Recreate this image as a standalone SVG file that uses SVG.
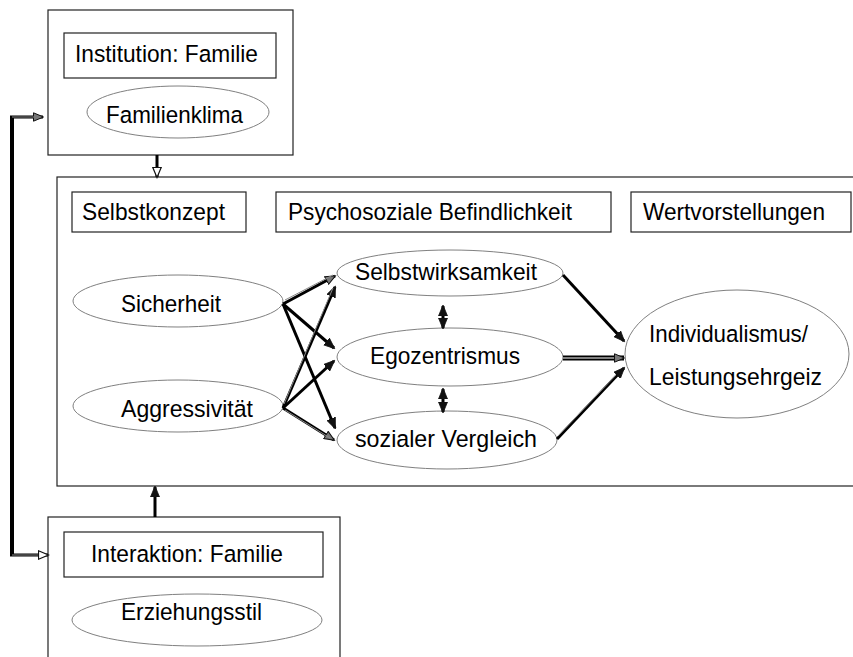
<svg xmlns="http://www.w3.org/2000/svg" width="853" height="657" viewBox="0 0 853 657">
<style>
.box{fill:#fff;stroke:#222;stroke-width:1.2}
.lbl{fill:#fff;stroke:#222;stroke-width:1.2}
.ell{fill:#fff;stroke:#808080;stroke-width:1}
text{font-family:"Liberation Sans",Arial,sans-serif;font-size:24.5px;fill:#000}
.c{stroke:#000;stroke-width:3;fill:none}
.cd{stroke:#000;stroke-width:5;fill:none}
.ci{stroke:#fff;stroke-width:1.2;fill:none}
.cg{stroke:#888;stroke-width:1;fill:none}
</style>
<defs>
<marker id="ah" markerUnits="userSpaceOnUse" markerWidth="12" markerHeight="10" refX="10" refY="5" orient="auto">
<path d="M0,0.5 L11,5 L0,9.5 z" fill="#111" stroke="#111" stroke-width="0.8"/>
</marker>
<marker id="ahs" markerUnits="userSpaceOnUse" markerWidth="12" markerHeight="10" refX="10" refY="5" orient="auto-start-reverse">
<path d="M0,0.5 L11,5 L0,9.5 z" fill="#111" stroke="#111" stroke-width="0.8"/>
</marker>
<marker id="ahw" markerUnits="userSpaceOnUse" markerWidth="12" markerHeight="10" refX="10" refY="5" orient="auto">
<path d="M0.5,0.8 L10.5,5 L0.5,9.2 z" fill="#fff" stroke="#111" stroke-width="1.2"/>
</marker>
<marker id="ahg" markerUnits="userSpaceOnUse" markerWidth="12" markerHeight="10" refX="10" refY="5" orient="auto">
<path d="M0.5,0.8 L10.5,5 L0.5,9.2 z" fill="#777" stroke="#111" stroke-width="1"/>
</marker>
</defs>

<g id="institution">
<rect class="box" x="48" y="10" width="245" height="145"/>
<rect class="lbl" x="64" y="33" width="212" height="45"/>
<text x="75" y="62" textLength="183" lengthAdjust="spacingAndGlyphs">Institution: Familie</text>
<ellipse class="ell" cx="178" cy="112" rx="91" ry="26"/>
<text x="106" y="123" textLength="137" lengthAdjust="spacingAndGlyphs">Familienklima</text>
</g>

<g id="main">
<rect class="box" x="57" y="177" width="800" height="309"/>
</g>

<g id="selbstkonzept">
<rect class="lbl" x="72" y="192" width="174" height="40"/>
<text x="82" y="220" textLength="143" lengthAdjust="spacingAndGlyphs">Selbstkonzept</text>
</g>
<g id="psychosozial">
<rect class="lbl" x="276" y="192" width="335" height="40"/>
<text x="288" y="220" textLength="284" lengthAdjust="spacingAndGlyphs">Psychosoziale Befindlichkeit</text>
</g>
<g id="wertvorstellungen">
<rect class="lbl" x="631" y="192" width="220" height="40"/>
<text x="643" y="220" textLength="182" lengthAdjust="spacingAndGlyphs">Wertvorstellungen</text>
</g>

<g id="sicherheit">
<ellipse class="ell" cx="178" cy="301" rx="105" ry="26"/>
<text x="121" y="312" textLength="100" lengthAdjust="spacingAndGlyphs">Sicherheit</text>
</g>
<g id="aggressivitaet">
<ellipse class="ell" cx="178" cy="406" rx="105" ry="26"/>
<text x="121" y="417" textLength="132" lengthAdjust="spacingAndGlyphs">Aggressivität</text>
</g>
<g id="selbstwirksamkeit">
<ellipse class="ell" cx="450" cy="273" rx="113" ry="23"/>
<text x="355" y="280" textLength="182" lengthAdjust="spacingAndGlyphs">Selbstwirksamkeit</text>
</g>
<g id="egozentrismus">
<ellipse class="ell" cx="450" cy="357" rx="113" ry="29"/>
<text x="370" y="364" textLength="150" lengthAdjust="spacingAndGlyphs">Egozentrismus</text>
</g>
<g id="sozialer">
<ellipse class="ell" cx="447" cy="440" rx="110" ry="29"/>
<text x="355" y="447" textLength="182" lengthAdjust="spacingAndGlyphs">sozialer Vergleich</text>
</g>
<g id="individualismus">
<ellipse class="ell" cx="737" cy="354" rx="112" ry="64"/>
<text x="649" y="342" textLength="159" lengthAdjust="spacingAndGlyphs">Individualismus/</text>
<text x="649" y="385" textLength="173" lengthAdjust="spacingAndGlyphs">Leistungsehrgeiz</text>
</g>

<g id="interaktion">
<rect class="box" x="48" y="517" width="292" height="150"/>
<rect class="lbl" x="64" y="532" width="259" height="45"/>
<text x="91" y="562" textLength="192" lengthAdjust="spacingAndGlyphs">Interaktion: Familie</text>
<ellipse class="ell" cx="197" cy="620" rx="125" ry="26"/>
<text x="121" y="620" textLength="141" lengthAdjust="spacingAndGlyphs">Erziehungsstil</text>
</g>

<g id="connectors">
<path d="M12,555 L12,117" stroke="#000" stroke-width="4" fill="none"/>
<path d="M10,117 L43,117" stroke="#000" stroke-width="3" fill="none" marker-end="url(#ahg)"/>
<path d="M10,555 L48,555" stroke="#000" stroke-width="3" fill="none" marker-end="url(#ahw)"/>
<path d="M12,117 L34,117 M12,555 L38,555" class="cg"/>
<path d="M157,155 L157,177" class="c" marker-end="url(#ahw)"/>
<path d="M155,517 L155,487" class="c" marker-end="url(#ah)"/>
<path d="M283,304 L335,276" class="c" marker-end="url(#ahg)"/>
<path d="M283,304 L334,348" class="c" marker-end="url(#ah)"/>
<path d="M283,304 L335,428" class="c" marker-end="url(#ah)"/>
<path d="M283,408 L335,287" class="c" marker-end="url(#ah)"/>
<path d="M283,408 L334,361" class="c" marker-end="url(#ah)"/>
<path d="M283,408 L334,440" class="c" marker-end="url(#ahg)"/>
<path d="M285,300 L333,275 M284,404 L333,288 M285,410 L330,438" class="cg"/>
<path d="M563,275 L624,341" class="c" marker-end="url(#ah)"/>
<path d="M563,358 L624,358" class="cd" marker-end="url(#ahg)"/>
<path d="M563,358 L614,358" class="ci"/>
<path d="M557,439 L624,368" class="c" marker-end="url(#ah)"/>
<path d="M558,436 L616,375" class="cg"/>
<path d="M443,306 L443,328" class="c" marker-start="url(#ahs)" marker-end="url(#ah)"/>
<path d="M443,389 L443,412" class="c" marker-start="url(#ahs)" marker-end="url(#ah)"/>
</g>
</svg>
